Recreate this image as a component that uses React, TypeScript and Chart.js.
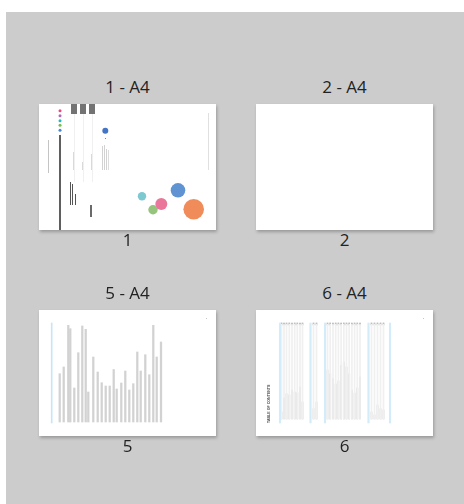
import React, { useEffect, useRef } from "react";
import { Chart, registerables } from "chart.js";

Chart.register(...registerables);

// ---------- data ----------
const pageTitles = ["1 - A4", "2 - A4", "5 - A4", "6 - A4"];
const pageNumbers = ["1", "2", "5", "6"];

// Page 1: decorative bubbles (page units, radius in px)
const bubbleX = [103, 114, 122.3, 139, 154.7];
const bubbleY = [92.3, 105.7, 100, 86.3, 105.3];
const bubbleR = [4.2, 4.7, 6, 7.3, 10.3];
const bubbleColors = ["#7cc9d2", "#95c47c", "#ea779b", "#5f93d1", "#f08c59"];

// Page 1: small colour dots and logo
const dotX = [21, 21, 21, 21, 21];
const dotY = [6.7, 11.7, 16.7, 21.3, 26.3];
const dotR = [1.5, 1.5, 1.5, 1.5, 1.5];
const dotColors = ["#e64c80", "#b06ab3", "#26b7c6", "#72bd50", "#4a86d2"];
const logoX = [66.3];
const logoY = [26.7];
const logoR = [3];

// Page 5: text lines (rotated) — x position and top end of each line
const p5X = [20.7, 24.7, 29.3, 31.3, 35.3, 39.3, 43.3, 46.7, 49.3, 54.3, 58.7, 62.7, 66.7, 70.7, 74.7, 77.7, 82.3, 86.3, 90.3, 94.3, 98.3, 101.7, 106.3, 110.3, 114.3, 117.7, 122];
const p5Top = [63.7, 57, 15.3, 18.7, 78, 42.7, 16, 19.3, 82, 47, 62, 72.7, 76, 76, 59.5, 79, 73, 61, 80, 73.7, 42, 61, 44.7, 64.7, 15.3, 47, 32];
const p5Bottom = 112;
const p5RuleX = [12.7];

// Page 6: table of contents
const p6RuleX = [24, 54.5, 69, 112.5, 134];
const p6X = [25.5, 28, 30.5, 33.3, 36, 38.7, 41.3, 44, 46.5, 57.5, 60.5, 71.5, 74.2, 77, 79.7, 82.4, 85.1, 87.8, 90.5, 93.2, 95.9, 98.6, 101.3, 104, 115.5, 118.5, 121.5, 124.5, 127.5];
const p6Top = [102, 88, 83.7, 85, 80, 82, 82.7, 77, 92, 98.7, 92, 60, 63.7, 68.7, 74, 71, 55.3, 52, 57, 63.7, 80, 83, 78, 67, 102, 105, 95, 98.7, 100];
const p6Bottom = 109;
const p6LeaderTop = 14;

const PAGE_W = 177;
const PAGE_H = 126;

// ---------- chart helper ----------
function baseOptions(): any {
  return {
    responsive: false,
    animation: false,
    devicePixelRatio: 1,
    events: [],
    layout: { padding: 0, autoPadding: false },
    plugins: { legend: { display: false }, tooltip: { enabled: false } },
    scales: {
      x: { type: "linear", min: 0, max: PAGE_W, display: false, offset: false },
      y: { type: "linear", min: 0, max: PAGE_H, reverse: true, display: false },
    },
  };
}

function MiniChart({ config }: { config: () => any }) {
  const ref = useRef<HTMLCanvasElement | null>(null);
  useEffect(() => {
    if (!ref.current) return;
    const chart = new Chart(ref.current, config());
    return () => chart.destroy();
  }, []);
  return (
    <canvas
      ref={ref}
      width={PAGE_W}
      height={PAGE_H}
      style={{ position: "absolute", left: 0, top: 0, width: PAGE_W, height: PAGE_H }}
    />
  );
}

const bubbleConfig = () => ({
  type: "bubble",
  data: {
    datasets: [
      {
        data: dotX.map((x, i) => ({ x, y: dotY[i], r: dotR[i] })),
        backgroundColor: dotColors,
        borderWidth: 0,
      },
      {
        data: logoX.map((x, i) => ({ x, y: logoY[i], r: logoR[i] })),
        backgroundColor: "#4474c4",
        borderWidth: 0,
      },
      {
        data: bubbleX.map((x, i) => ({ x, y: bubbleY[i], r: bubbleR[i] })),
        backgroundColor: bubbleColors,
        borderWidth: 0,
      },
    ],
  },
  options: baseOptions(),
});

const page5Config = () => ({
  type: "bar",
  data: {
    datasets: [
      {
        data: p5RuleX.map((x) => ({ x, y: [13, 113] })),
        backgroundColor: "#c6e6f8",
        barThickness: 1,
        grouped: false,
      },
      {
        data: p5X.map((x, i) => ({ x, y: [p5Bottom, p5Top[i]] })),
        backgroundColor: "#d2d2d2",
        barThickness: 1.6,
        grouped: false,
      },
    ],
  },
  options: baseOptions(),
});

const page6Config = () => ({
  type: "bar",
  data: {
    datasets: [
      {
        data: p6RuleX.map((x) => ({ x, y: [13, 113] })),
        backgroundColor: "#d3ecfa",
        barThickness: 1.5,
        grouped: false,
      },
      {
        data: p6X.map((x) => ({ x, y: [p6LeaderTop, p6Bottom] })),
        backgroundColor: "#f0f0f0",
        barThickness: 1,
        grouped: false,
      },
      {
        data: p6X.map((x, i) => ({ x, y: [p6Bottom, p6Top[i]] })),
        backgroundColor: "#d4d4d4",
        barThickness: 1.2,
        grouped: false,
      },
      {
        data: p6X.map((x) => ({ x, y: [p6LeaderTop - 1, p6LeaderTop + 1] })),
        backgroundColor: "#a8a8a8",
        barThickness: 1,
        grouped: false,
      },
    ],
  },
  options: baseOptions(),
});

// ---------- layout helpers ----------
const abs = (l: number, t: number, w: number, h: number, bg: string, extra: any = {}) => (
  <div style={{ position: "absolute", left: l, top: t, width: w, height: h, background: bg, ...extra }} />
);

const font = '"Open Sans", "Noto Sans", sans-serif';

function Page({ left, top, title, num, children }: any) {
  const label = (t: number, text: string) => (
    <div
      style={{
        position: "absolute",
        left: left - 20,
        top: t,
        width: PAGE_W + 40,
        height: 22,
        lineHeight: "22px",
        textAlign: "center",
        fontFamily: font,
        fontSize: 17,
        color: "#222",
      }}
    >
      {text}
    </div>
  );
  return (
    <>
      {label(top - 28, title)}
      <div
        style={{
          position: "absolute",
          left,
          top,
          width: PAGE_W,
          height: PAGE_H,
          background: "#ffffff",
          boxShadow: "1px 2px 3px rgba(0,0,0,0.25)",
          overflow: "hidden",
        }}
      >
        {children}
      </div>
      {label(top + PAGE_H - 1, num)}
    </>
  );
}

function Page1Decor() {
  return (
    <>
      {/* header boxes */}
      {abs(31.7, 0, 6, 10, "#737373")}
      {abs(41, 0, 5.7, 10, "#737373")}
      {abs(50, 0, 6, 10, "#737373")}
      {/* thin column rules */}
      {abs(34.5, 10, 0.5, 68, "#f0f0f0")}
      {abs(43.8, 10, 0.5, 68, "#f0f0f0")}
      {abs(53, 10, 0.5, 68, "#f0f0f0")}
      {abs(33.8, 48, 1.2, 18, "#d9d9d9")}
      {abs(43.1, 58, 1.2, 8, "#d9d9d9")}
      {abs(52.3, 50, 1.2, 16, "#d9d9d9")}
      {/* left faint vertical text */}
      {abs(8.5, 36, 1.3, 33, "#c4c4c4")}
      {/* dark spine */}
      {abs(20.3, 31, 1.7, 95, "#5f5f5f")}
      {/* title lines */}
      {abs(30.9, 78, 1.2, 23, "#555555")}
      {abs(33.3, 80, 1.2, 21, "#555555")}
      {abs(35.7, 90, 1.2, 11, "#555555")}
      {/* version */}
      {abs(51.4, 101, 1.2, 12, "#6a6a6a")}
      {/* logo caption and address lines */}
      {abs(65.8, 33.5, 1, 1.5, "#888")}
      {abs(62.8, 42, 0.9, 24, "#d2d2d2")}
      {abs(64.8, 41, 0.9, 25, "#d2d2d2")}
      {abs(66.8, 45, 0.9, 21, "#d2d2d2")}
      {abs(68.8, 46, 0.9, 20, "#dcdcdc")}
      {/* right faint text */}
      {abs(168.5, 9, 0.9, 57, "#e0e0e0")}
    </>
  );
}

function Page5Decor() {
  return <>{abs(166.5, 7.5, 1.5, 1.2, "#c4c4c4")}</>;
}

function Page6Decor() {
  return (
    <>
      {abs(166.5, 7.5, 1.5, 1.2, "#c4c4c4")}
      <div
        style={{
          position: "absolute",
          left: 11.5,
          top: 113,
          transformOrigin: "0 0",
          transform: "rotate(-90deg)",
          whiteSpace: "nowrap",
          fontFamily: '"Liberation Sans", sans-serif',
          fontWeight: 700,
          fontSize: 3.6,
          lineHeight: "3.6px",
          color: "#444",
        }}
      >
        TABLE OF CONTENTS
      </div>
    </>
  );
}

export default function App() {
  useEffect(() => {
    document.body.style.margin = "0";
  }, []);
  return (
    <div style={{ position: "fixed", left: 0, top: 0, width: 464, height: 504, background: "#ffffff", overflow: "hidden" }}>
      <div style={{ position: "absolute", left: 6, top: 12, width: 458, height: 492, background: "#cccccc" }} />
      <Page left={39} top={104} title={pageTitles[0]} num={pageNumbers[0]}>
        <Page1Decor />
        <MiniChart config={bubbleConfig} />
      </Page>
      <Page left={256} top={104} title={pageTitles[1]} num={pageNumbers[1]} />
      <Page left={39} top={310} title={pageTitles[2]} num={pageNumbers[2]}>
        <Page5Decor />
        <MiniChart config={page5Config} />
      </Page>
      <Page left={256} top={310} title={pageTitles[3]} num={pageNumbers[3]}>
        <Page6Decor />
        <MiniChart config={page6Config} />
      </Page>
    </div>
  );
}
